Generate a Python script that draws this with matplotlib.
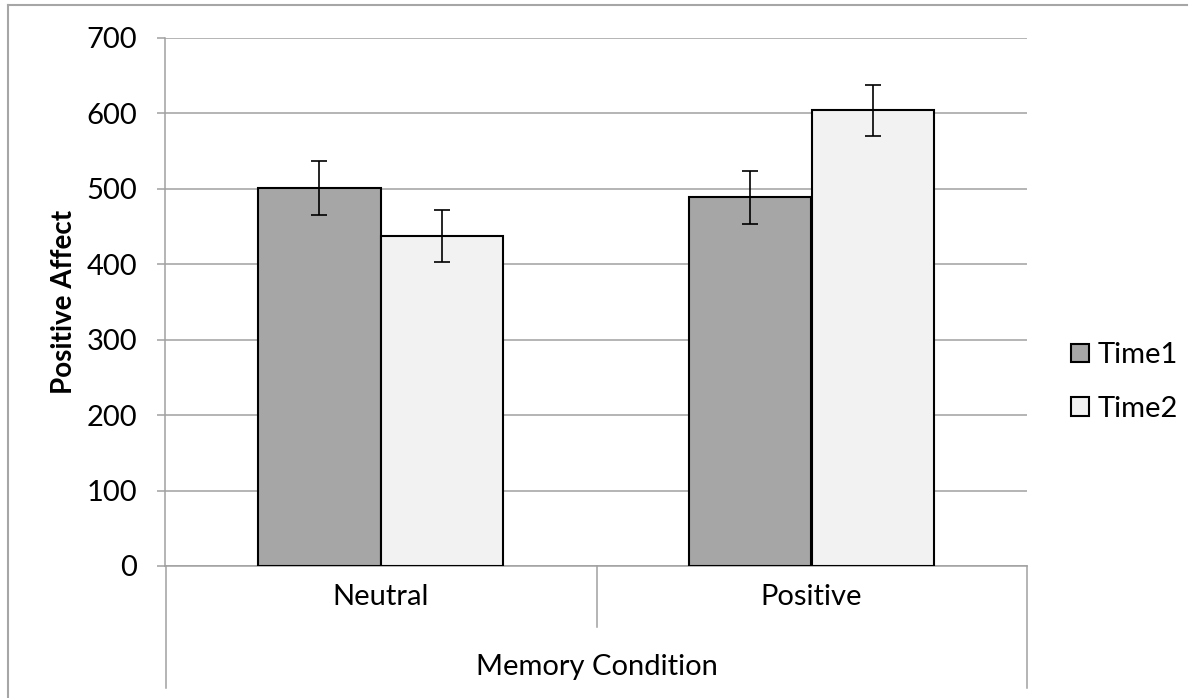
import matplotlib
matplotlib.use("Agg")
import matplotlib.pyplot as plt
import matplotlib.transforms as mtrans
from matplotlib.lines import Line2D
import numpy as np

categories = ["Neutral", "Positive"]
series_names = ["Time1", "Time2"]
time1 = [501, 489]
time2 = [438, 604]
time1_err = [35.5, 35]
time2_err = [34.5, 34]
yticks = [0, 100, 200, 300, 400, 500, 600, 700]

plt.rcParams['font.family'] = ['Lato', 'DejaVu Sans']

W, H = 1196, 698
fig = plt.figure(figsize=(W / 100, H / 100), dpi=100)
ax = fig.add_axes([165 / W, 1 - 566 / H, (1027 - 165) / W, (566 - 38) / H])

x = np.arange(len(categories))
bw = 0.285
grid_c = "#A0A0A0"
fs = 21

ax.bar(x - bw / 2, time1, bw, color="#A6A6A6", edgecolor="black", linewidth=1.5,
       label=series_names[0], zorder=3)
ax.bar(x + bw / 2, time2, bw, color="#F2F2F2", edgecolor="black", linewidth=1.5,
       label=series_names[1], zorder=3)
ax.errorbar(x - bw / 2, time1, yerr=time1_err, fmt="none", ecolor="black",
            elinewidth=1.2, capsize=5.5, capthick=1.2, zorder=4)
ax.errorbar(x + bw / 2, time2, yerr=time2_err, fmt="none", ecolor="black",
            elinewidth=1.2, capsize=5.5, capthick=1.2, zorder=4)

ax.set_xlim(-0.5, len(categories) - 0.5)
ax.set_ylim(0, 700)
ax.set_yticks(yticks)
ax.set_yticklabels([str(v) for v in yticks], fontsize=fs)
ax.yaxis.grid(True, color=grid_c, linewidth=1.1, zorder=0)
ax.set_axisbelow(True)
ax.tick_params(axis="y", length=6, width=1.1, color=grid_c, pad=14)
ax.set_xticks([])
for s in ["top", "right"]:
    ax.spines[s].set_visible(False)
ax.spines["left"].set_color(grid_c)
ax.spines["left"].set_linewidth(1.1)
ax.spines["bottom"].set_color(grid_c)
ax.spines["bottom"].set_linewidth(1.1)

ax.set_ylabel("Positive Affect", fontsize=20, fontweight="bold", labelpad=7)


def fx(px):
    return px / W


def fy(py):
    return 1 - py / H


fig.add_artist(Line2D([fx(166), fx(166)], [fy(566), fy(688)], color=grid_c, lw=1.1))
fig.add_artist(Line2D([fx(1027), fx(1027)], [fy(566), fy(688)], color=grid_c, lw=1.1))
fig.add_artist(Line2D([fx(596.5), fx(596.5)], [fy(566), fy(627)], color=grid_c, lw=1.1))

blend = mtrans.blended_transform_factory(ax.transData, fig.transFigure)
for i, c in enumerate(categories):
    ax.text(x[i], fy(597), c, transform=blend, ha="center", va="center", fontsize=fs)
fig.text((fx(166) + fx(1027)) / 2, fy(667), "Memory Condition", ha="center",
         va="center", fontsize=fs)

# outer frame
fig.add_artist(Line2D([fx(7.5), fx(7.5)], [fy(5), fy(698)], color="#A6A6A6", lw=1.5))
fig.add_artist(Line2D([fx(7.5), fx(1187)], [fy(5), fy(5)], color="#A6A6A6", lw=1.5))

leg = fig.legend(loc="center left", bbox_to_anchor=(fx(1071), fy(382)), frameon=False,
                 fontsize=fs, handlelength=0.6, handleheight=0.6, handletextpad=0.3,
                 labelspacing=0.95, borderaxespad=0, borderpad=0)

fig.savefig("out.png", dpi=100)
